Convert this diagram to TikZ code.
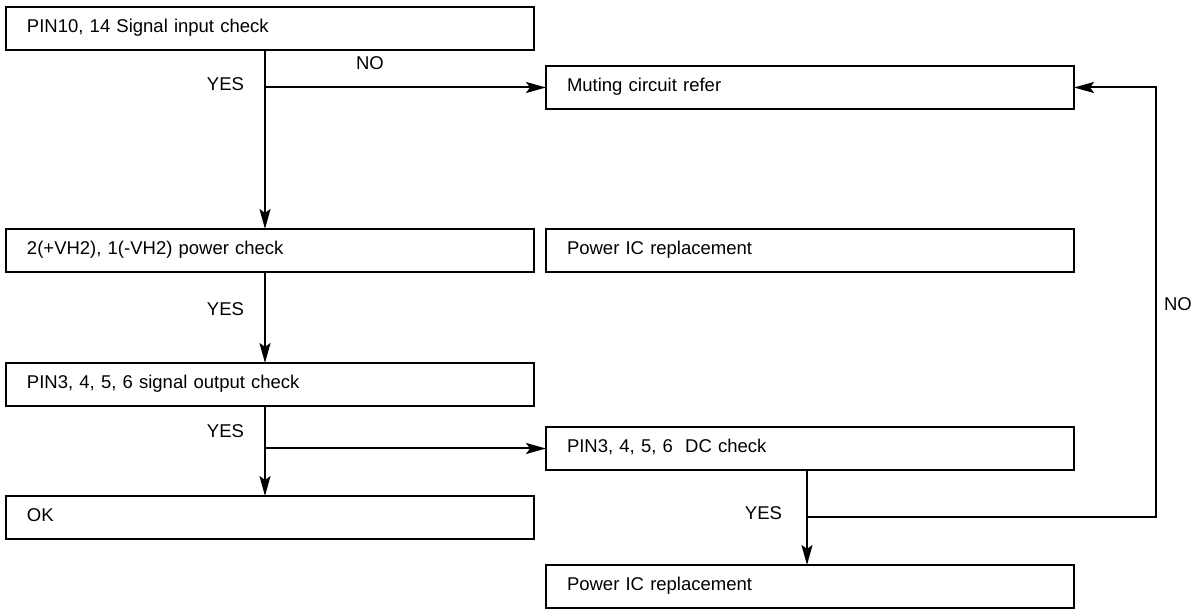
\documentclass[tikz,border=0pt]{standalone}
\usepackage{fontspec}
\setmainfont{Liberation Sans}
\usetikzlibrary{arrows.meta}
\begin{document}
\begin{tikzpicture}[x=1pt,y=-1pt,
  line width=2pt,
  txt/.style={font=\fontsize{18.5}{20}\selectfont, text height=0.716em, text depth=0pt},
  box/.style={txt, draw, line width=2pt, anchor=north west, minimum height=43pt,
    text width=486pt, inner xsep=21pt, inner ysep=0pt, outer sep=0pt, align=left},
  lbl/.style={txt, inner sep=0pt},
  arr/.style={-{Stealth[length=20pt,width=11pt,inset=4pt]}, line width=2pt}]
\useasboundingbox (0,0) rectangle (1192,609);
\node[box] (b1) at (6,7) {PIN10, 14 Signal input check};
\node[box] (mute) at (546,66) {Muting circuit refer};
\node[box] (b3) at (6,229) {2(+VH2), 1(-VH2) power check};
\node[box] (b4) at (546,229) {Power IC replacement};
\node[box] (b5) at (6,363) {PIN3, 4, 5, 6 signal output check};
\node[box] (dc) at (546,427) {PIN3, 4, 5, 6\ \ DC check};
\node[box] (ok) at (6,496) {OK};
\node[box] (b8) at (546,565) {Power IC replacement};
\coordinate (j1) at (265,87.5);
\coordinate (j2) at (265,448.5);
\coordinate (j3) at (807,517);
\coordinate (c1) at (1156,517);
\coordinate (c2) at (1156,87.5);
\draw[arr] (b1.south -| j1) -- (b3.north -| j1);
\draw[arr] (j1) -- (mute.west |- j1);
\draw[arr] (b3.south -| j1) -- (b5.north -| j1);
\draw[arr] (b5.south -| j2) -- (ok.north -| j2);
\draw[arr] (j2) -- (dc.west |- j2);
\draw[arr] (dc.south -| j3) -- (b8.north -| j3);
\draw[arr, line join=miter] (j3) -- (c1) -- (c2) -- (mute.east |- c2);
\node[lbl, anchor=east] at (245,87) {YES};
\node[lbl] at (370,66) {NO};
\node[lbl, anchor=east] at (245,312) {YES};
\node[lbl, anchor=east] at (245,434) {YES};
\node[lbl, anchor=east] at (783,516) {YES};
\node[lbl, anchor=west] at (1163,307) {NO};
\end{tikzpicture}
\end{document}
